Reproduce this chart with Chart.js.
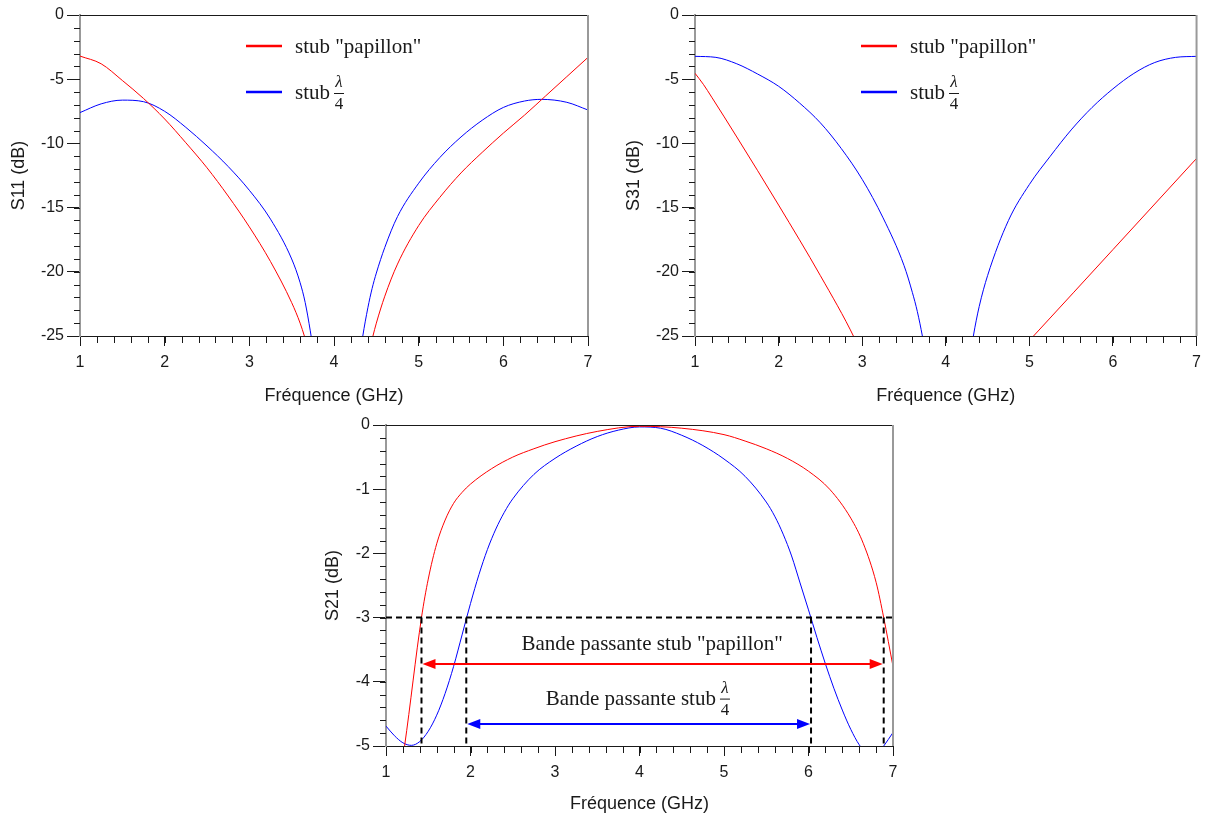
<!DOCTYPE html>
<html>
<head>
<meta charset="utf-8">
<script src="https://cdn.jsdelivr.net/npm/chart.js@4.4.0/dist/chart.umd.min.js"></script>
<style>
    body { margin: 0; background: #fff; }
    canvas { position: absolute; }
</style>
</head>
<body>
<canvas id="s11" width="600" height="410" style="left:0;top:0"></canvas>
<canvas id="s31" width="593" height="410" style="left:615px;top:0"></canvas>
<canvas id="s21" width="600" height="406" style="left:306px;top:410px"></canvas>
<script>
// axes
const FREQ_TICKS = [1, 2, 3, 4, 5, 6, 7];
const S_TICKS = [0, -5, -10, -15, -20, -25];
const S21_TICKS = [0, -1, -2, -3, -4, -5];

// S11 (null = curve drops far below -25 dB around 4 GHz)
const s11PapF = [1, 1.25, 1.5, 1.75, 2, 2.25, 2.5, 2.75, 3, 3.25, 3.5, 3.6, 3.65, 3.7, 4, 4.42, 4.46, 4.5, 4.6, 4.75, 5, 5.25, 5.5, 5.75, 6, 6.25, 6.5, 6.75, 7];
const s11PapDb = [-3.2, -3.8, -5.1, -6.5, -8.1, -9.95, -11.9, -14.1, -16.5, -19.2, -22.4, -24.0, -25.0, -26.1, null, -26.1, -25.0, -24.0, -21.9, -19.4, -16.4, -14.2, -12.3, -10.7, -9.2, -7.8, -6.3, -4.8, -3.3];
const s11QuarterF = [1, 1.25, 1.5, 1.75, 2, 2.25, 2.5, 2.75, 3, 3.25, 3.5, 3.6, 3.66, 3.72, 3.76, 4, 4.3, 4.34, 4.4, 4.45, 4.5, 4.6, 4.75, 5, 5.25, 5.5, 5.75, 6, 6.25, 6.45, 6.75, 7];
const s11QuarterDb = [-7.6, -6.92, -6.63, -6.75, -7.5, -8.75, -10.2, -11.8, -13.65, -15.9, -19.0, -20.85, -22.4, -24.6, -26.3, null, -26.8, -25.0, -22.8, -21.3, -20.1, -18.1, -15.7, -13.1, -11.1, -9.5, -8.2, -7.2, -6.7, -6.57, -6.8, -7.4];

// S31
const s31PapF = [1, 1.1, 1.2, 1.5, 2, 2.5, 2.91, 2.95, 4, 5.0, 5.05, 6, 6.5, 7];
const s31PapDb = [-4.54, -5.4, -6.4, -9.5, -14.8, -20.3, -25.2, -25.8, null, -25.35, -25.0, -18.27, -14.72, -11.17];
const s31QuarterF = [1, 1.25, 1.5, 1.75, 2, 2.25, 2.5, 2.75, 3, 3.25, 3.5, 3.6, 3.66, 3.72, 3.76, 4, 4.29, 4.33, 4.4, 4.5, 4.75, 5, 5.25, 5.5, 5.75, 6, 6.25, 6.5, 6.75, 7];
const s31QuarterDb = [-3.22, -3.3, -3.8, -4.6, -5.55, -6.85, -8.4, -10.4, -12.8, -15.8, -19.5, -21.6, -23.1, -25.0, -26.5, null, -26.7, -25.0, -22.7, -20.3, -16.0, -13.2, -11.0, -8.95, -7.2, -5.75, -4.55, -3.7, -3.3, -3.22];

// S21
const s21PapF = [1.15, 1.22, 1.42, 1.5, 1.6, 1.7, 1.8, 1.9, 2, 2.25, 2.5, 2.75, 3, 3.5, 4, 4.5, 5, 5.25, 5.5, 5.75, 6, 6.25, 6.5, 6.65, 6.8, 6.89, 7];
const s21PapDb = [-5.6, -5, -3, -2.4, -1.85, -1.48, -1.22, -1.05, -0.92, -0.68, -0.5, -0.37, -0.26, -0.1, -0.02, -0.05, -0.15, -0.25, -0.37, -0.52, -0.72, -1.0, -1.45, -1.85, -2.45, -3, -3.76];
const s21QuarterF = [1, 1.1, 1.2, 1.3, 1.4, 1.5, 1.6, 1.7, 1.8, 1.9, 2, 2.1, 2.2, 2.3, 2.4, 2.5, 2.75, 3, 3.25, 3.5, 3.75, 4, 4.25, 4.5, 4.75, 5, 5.25, 5.5, 5.6, 5.7, 5.8, 5.9, 6, 6.1, 6.2, 6.3, 6.4, 6.5, 6.6, 6.7, 6.8, 6.89, 7];
const s21QuarterDb = [-4.69, -4.84, -4.95, -4.99, -4.93, -4.77, -4.52, -4.18, -3.76, -3.27, -2.78, -2.33, -1.94, -1.62, -1.36, -1.15, -0.77, -0.52, -0.33, -0.18, -0.08, -0.03, -0.05, -0.16, -0.32, -0.53, -0.8, -1.2, -1.42, -1.7, -2.04, -2.46, -2.88, -3.31, -3.72, -4.1, -4.44, -4.74, -4.98, -5.13, -5.14, -5.0, -4.79];

// -3 dB bandwidth marks
const S21_CUTOFF = -3;
const bandPapillon = [1.42, 6.89];
const bandQuarter = [1.95, 6.03];
const arrowLevels = [-3.73, -4.65];

const RED = "#ff0000";
const BLUE = "#0000ff";
const INK = "#1a1a1a";
const SANS = "'Liberation Sans', Arial, sans-serif";
const SERIF = "'Liberation Serif', 'Times New Roman', serif";

function pts(f, db) {
    return f.map((x, i) => ({ x: x, y: db[i] }));
}

function curve(f, db, color) {
    return {
        data: pts(f, db),
        borderColor: color,
        borderWidth: 1,
        pointRadius: 0,
        showLine: true,
        cubicInterpolationMode: "monotone",
        spanGaps: false,
        order: 1,
    };
}

function drawFrac(ctx, x, base) {
    ctx.save();
    ctx.fillStyle = INK;
    ctx.textAlign = "center";
    ctx.textBaseline = "middle";
    ctx.font = "italic 17px " + SERIF;
    ctx.fillText("\u03bb", x + 5, base - 16);
    ctx.fillRect(x, base - 6, 10, 1);
    ctx.font = "17px " + SERIF;
    ctx.fillText("4", x + 5, base + 6);
    ctx.restore();
}

// frame, minor ticks, legend
const framePlugin = {
    id: "frame",
    afterDraw(chart, args, opts) {
        const { ctx, chartArea: a } = chart;
        const x = chart.scales.x, y = chart.scales.y;
        ctx.save();
        ctx.strokeStyle = INK;
        ctx.lineWidth = 1;
        ctx.beginPath();
        let n = Math.round((x.max - x.min) / opts.minorX);
        for (let i = 1; i < n; i++) {
            const px = Math.round(x.getPixelForValue(x.min + i * opts.minorX)) + 0.5;
            ctx.moveTo(px, a.bottom);
            ctx.lineTo(px, a.bottom + 7);
        }
        n = Math.round((y.max - y.min) / opts.minorY);
        for (let i = 1; i < n; i++) {
            const py = Math.round(y.getPixelForValue(y.min + i * opts.minorY)) + 0.5;
            ctx.moveTo(a.left, py);
            ctx.lineTo(a.left - 6, py);
        }
        ctx.moveTo(a.left, Math.round(a.top) + 0.5);
        ctx.lineTo(a.right, Math.round(a.top) + 0.5);
        ctx.stroke();
        ctx.strokeStyle = "#999";
        ctx.lineWidth = 2;
        ctx.beginPath();
        ctx.moveTo(a.right, a.top);
        ctx.lineTo(a.right, a.bottom);
        ctx.stroke();

        if (opts.legend) {
            const lx = a.left + 166;
            [RED, BLUE].forEach((c, i) => {
                const base = a.top + 38 + i * 46;
                ctx.strokeStyle = c;
                ctx.lineWidth = 2.5;
                ctx.beginPath();
                ctx.moveTo(lx, base - 7);
                ctx.lineTo(lx + 36, base - 7);
                ctx.stroke();
                ctx.fillStyle = INK;
                ctx.font = "21px " + SERIF;
                ctx.textBaseline = "alphabetic";
                ctx.textAlign = "left";
                if (i === 0) {
                    ctx.fillText('stub "papillon"', lx + 49, base);
                } else {
                    ctx.fillText("stub", lx + 49, base);
                    drawFrac(ctx, lx + 49 + ctx.measureText("stub").width + 4, base);
                }
            });
        }
        ctx.restore();
    },
};

function arrow(ctx, x1, x2, y, color) {
    ctx.save();
    ctx.strokeStyle = color;
    ctx.fillStyle = color;
    ctx.lineWidth = 2;
    ctx.beginPath();
    ctx.moveTo(x1 + 8, y);
    ctx.lineTo(x2 - 8, y);
    ctx.stroke();
    ctx.beginPath();
    ctx.moveTo(x1, y);
    ctx.lineTo(x1 + 13, y - 5);
    ctx.lineTo(x1 + 13, y + 5);
    ctx.closePath();
    ctx.moveTo(x2, y);
    ctx.lineTo(x2 - 13, y - 5);
    ctx.lineTo(x2 - 13, y + 5);
    ctx.closePath();
    ctx.fill();
    ctx.restore();
}

const bandPlugin = {
    id: "band",
    afterDatasetsDraw(chart) {
        const { ctx } = chart;
        const x = chart.scales.x, y = chart.scales.y;
        const bands = [bandPapillon, bandQuarter];
        [RED, BLUE].forEach((c, i) => {
            arrow(ctx, x.getPixelForValue(bands[i][0]) + 1, x.getPixelForValue(bands[i][1]) - 1,
                Math.round(y.getPixelForValue(arrowLevels[i])), c);
        });
        ctx.save();
        ctx.fillStyle = INK;
        ctx.font = "21px " + SERIF;
        ctx.textBaseline = "alphabetic";
        ctx.textAlign = "center";
        ctx.fillText('Bande passante stub "papillon"', x.getPixelForValue(4.15), y.getPixelForValue(-3.5));
        const t = "Bande passante stub";
        const w = ctx.measureText(t).width + 14;
        const x0 = x.getPixelForValue(3.98) - w / 2;
        const base = y.getPixelForValue(-4.355);
        ctx.textAlign = "left";
        ctx.fillText(t, x0, base);
        drawFrac(ctx, x0 + w - 10, base);
        ctx.restore();
    },
};

function makeChart(id, datasets, yTicks, yTitle, opts) {
    new Chart(document.getElementById(id), {
        type: "scatter",
        data: { datasets: datasets },
        options: {
            responsive: false,
            animation: false,
            events: [],
            layout: { padding: { top: 15, right: opts.padRight, left: 0, bottom: 0 } },
            plugins: {
                legend: { display: false },
                tooltip: { enabled: false },
                frame: { minorX: 0.2, minorY: opts.minorY, legend: opts.legend },
            },
            scales: {
                x: {
                    type: "linear",
                    min: FREQ_TICKS[0],
                    max: FREQ_TICKS[FREQ_TICKS.length - 1],
                    afterBuildTicks: (s) => { s.ticks = FREQ_TICKS.map((v) => ({ value: v })); },
                    afterFit: (s) => { s.height = opts.xHeight; },
                    grid: { drawOnChartArea: false, tickLength: 10, color: INK, lineWidth: 1 },
                    border: { color: INK, width: 1 },
                    ticks: { font: { family: SANS, size: 16 }, color: INK, padding: 7, maxRotation: 0 },
                    title: {
                        display: true,
                        text: "Fréquence (GHz)",
                        font: { family: SANS, size: 18 },
                        color: INK,
                        padding: { top: 0, bottom: opts.xTitlePad },
                    },
                },
                y: {
                    type: "linear",
                    min: yTicks[yTicks.length - 1],
                    max: yTicks[0],
                    afterBuildTicks: (s) => { s.ticks = yTicks.slice().reverse().map((v) => ({ value: v })); },
                    afterFit: (s) => { s.width = 80; },
                    grid: { drawOnChartArea: false, tickLength: 13, color: INK, lineWidth: 1 },
                    border: { color: "#999", width: 2 },
                    ticks: { font: { family: SANS, size: 16 }, color: INK, padding: 3 },
                    title: {
                        display: true,
                        text: yTitle,
                        font: { family: SANS, size: 18 },
                        color: INK,
                        padding: { top: opts.yTitlePad, bottom: 0 },
                    },
                },
            },
        },
        plugins: opts.extra ? [framePlugin, opts.extra] : [framePlugin],
    });
}

document.addEventListener("DOMContentLoaded", () => {
    makeChart("s11", [
        curve(s11PapF, s11PapDb, RED),
        curve(s11QuarterF, s11QuarterDb, BLUE),
    ], S_TICKS, "S11 (dB)", { padRight: 12, xHeight: 74, xTitlePad: 3, yTitlePad: 8, minorY: 1, legend: true });

    makeChart("s31", [
        curve(s31PapF, s31PapDb, RED),
        curve(s31QuarterF, s31QuarterDb, BLUE),
    ], S_TICKS, "S31 (dB)", { padRight: 5, xHeight: 74, xTitlePad: 3, yTitlePad: 8, minorY: 1, legend: true });

    // dashed -3 dB guides
    const guide = (f, db) => ({
        data: pts(f, db),
        borderColor: "#000",
        borderWidth: 2,
        borderDash: [6, 4],
        pointRadius: 0,
        showLine: true,
        order: 0,
    });
    const lowest = S21_TICKS[S21_TICKS.length - 1];
    const guides = [guide([FREQ_TICKS[0], FREQ_TICKS[FREQ_TICKS.length - 1]], [S21_CUTOFF, S21_CUTOFF])];
    bandPapillon.concat(bandQuarter).forEach((f) => guides.push(guide([f, f], [S21_CUTOFF, lowest])));

    makeChart("s21", [
        curve(s21PapF, s21PapDb, RED),
        curve(s21QuarterF, s21QuarterDb, BLUE),
    ].concat(guides), S21_TICKS, "S21 (dB)", { padRight: 13, xHeight: 70, xTitlePad: 1, yTitlePad: 16, minorY: 0.2, legend: false, extra: bandPlugin });
});
</script>
</body>
</html>
